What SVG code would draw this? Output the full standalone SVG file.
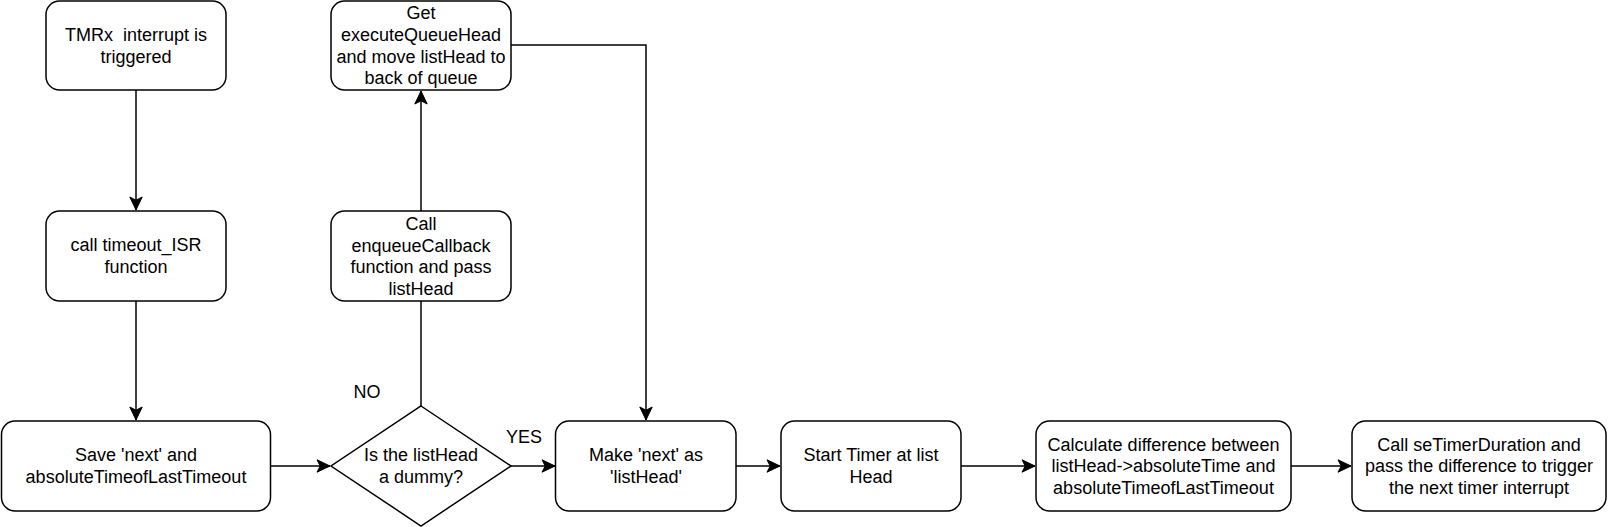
<svg xmlns="http://www.w3.org/2000/svg" width="1608" height="527" viewBox="0 0 1608 527">
<style>
.box{fill:#fff;stroke:#000;stroke-width:1.5}
.edge{fill:none;stroke:#000;stroke-width:1.5}
text{font-family:"Liberation Sans",Arial,sans-serif;font-size:18px;fill:#000;text-anchor:middle}
</style>
<defs>
<marker id="arr" viewBox="-14 -8 15 16" refX="0" refY="0" markerWidth="15" markerHeight="16" markerUnits="userSpaceOnUse" orient="auto">
<path d="M0,0 L-13,-6.2 L-9.8,0 L-13,6.2 Z" fill="#000" stroke="#000" stroke-width="1"/>
</marker>
</defs>
<rect width="1608" height="527" fill="#fff"/>
<g id="connectors">
<path class="edge" d="M136,90 L136,210" marker-end="url(#arr)"/>
<path class="edge" d="M136,301 L136,420" marker-end="url(#arr)"/>
<path class="edge" d="M270,466 L330,466" marker-end="url(#arr)"/>
<path class="edge" d="M421,406 L421,301"/>
<path class="edge" d="M421,211 L421,91" marker-end="url(#arr)"/>
<path class="edge" d="M511,466 L555,466" marker-end="url(#arr)"/>
<path class="edge" d="M511,45 L646,45 L646,420" marker-end="url(#arr)"/>
<path class="edge" d="M736,466 L780,466" marker-end="url(#arr)"/>
<path class="edge" d="M961,466 L1035,466" marker-end="url(#arr)"/>
<path class="edge" d="M1291,466 L1351,466" marker-end="url(#arr)"/>
<text x="367" y="398">NO</text>
<text x="524" y="443">YES</text>
</g>
<g id="tmrx">
<rect class="box" x="46" y="1" width="180" height="89" rx="13.5"/>
<text xml:space="preserve" x="136" y="41">TMRx  interrupt is</text>
<text x="136" y="62.5">triggered</text>
</g>
<g id="timeout">
<rect class="box" x="46" y="211" width="180" height="90" rx="13.5"/>
<text x="136" y="251">call timeout_ISR</text>
<text x="136" y="272.5">function</text>
</g>
<g id="save">
<rect class="box" x="1.5" y="421" width="269" height="90" rx="13.5"/>
<text x="136" y="461.3">Save 'next' and</text>
<text x="136" y="482.8">absoluteTimeofLastTimeout</text>
</g>
<g id="decision">
<path class="box" d="M421,406 L511,466 L421,526 L331,466 Z"/>
<text x="421" y="461.3">Is the listHead</text>
<text x="421" y="482.8">a dummy?</text>
</g>
<g id="enqueue">
<rect class="box" x="331" y="211" width="180" height="90" rx="13.5"/>
<text x="421" y="229.9">Call</text>
<text x="421" y="251.5">enqueueCallback</text>
<text x="421" y="273.1">function and pass</text>
<text x="421" y="294.7">listHead</text>
</g>
<g id="getqueue">
<rect class="box" x="331" y="1" width="180" height="89" rx="13.5"/>
<text x="421" y="19.4">Get</text>
<text x="421" y="41">executeQueueHead</text>
<text x="421" y="62.6">and move listHead to</text>
<text x="421" y="84.2">back of queue</text>
</g>
<g id="makenext">
<rect class="box" x="555.5" y="421" width="180.5" height="90" rx="13.5"/>
<text x="646" y="461.3">Make 'next' as</text>
<text x="646" y="482.8">'listHead'</text>
</g>
<g id="starttimer">
<rect class="box" x="781" y="421" width="180" height="90" rx="13.5"/>
<text x="871" y="461.3">Start Timer at list</text>
<text x="871" y="482.8">Head</text>
</g>
<g id="calculate">
<rect class="box" x="1036" y="421" width="255" height="90" rx="13.5"/>
<text x="1163.5" y="450.5">Calculate difference between</text>
<text x="1163.5" y="472">listHead-&gt;absoluteTime and</text>
<text x="1163.5" y="493.6">absoluteTimeofLastTimeout</text>
</g>
<g id="settimer">
<rect class="box" x="1352" y="421" width="254" height="90" rx="13.5"/>
<text x="1479" y="450.5">Call seTimerDuration and</text>
<text x="1479" y="472">pass the difference to trigger</text>
<text x="1479" y="493.6">the next timer interrupt</text>
</g>
</svg>
